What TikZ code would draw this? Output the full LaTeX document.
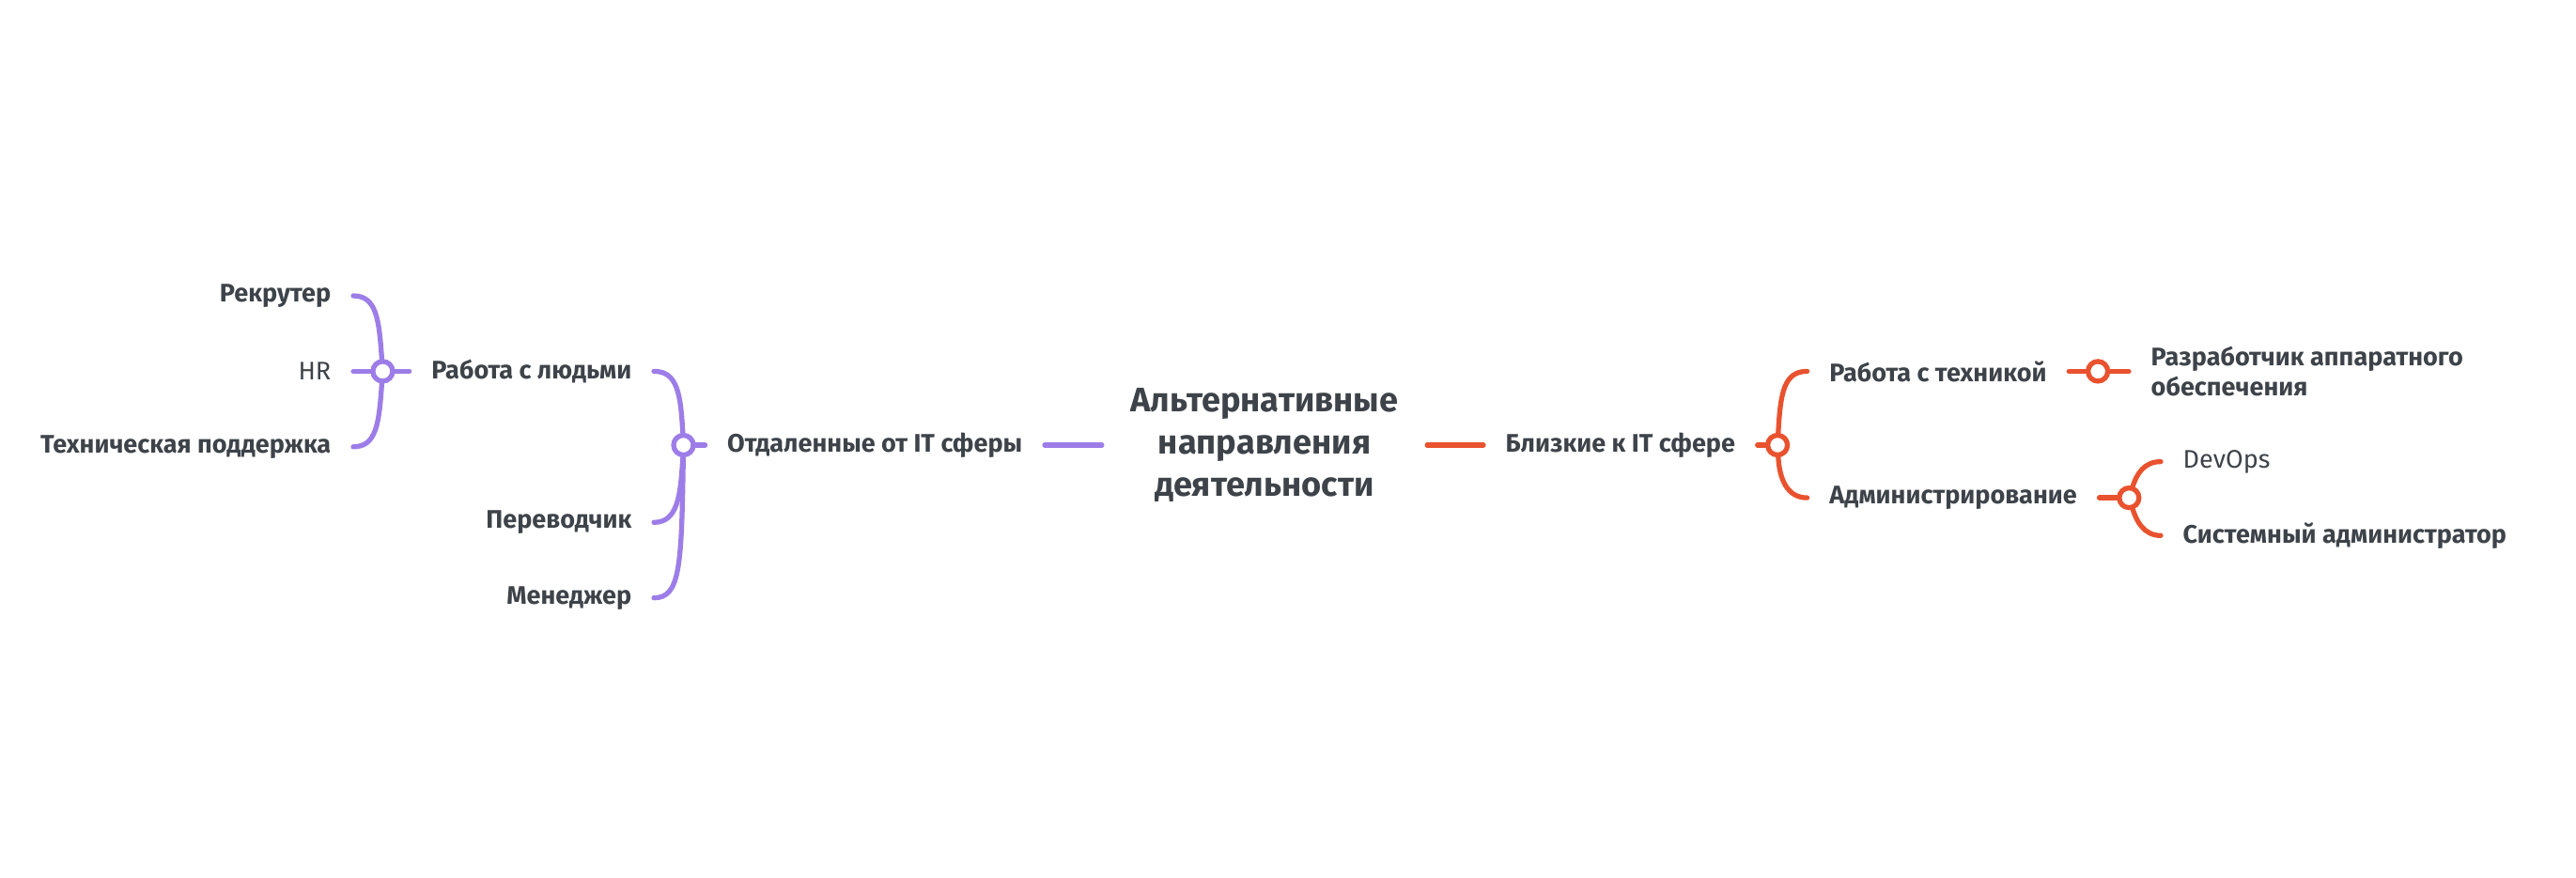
\documentclass[tikz,border=0pt]{standalone}
\usepackage{fontspec}
\setmainfont{Fira Sans}
\usepackage{xcolor}
\definecolor{mmpurple}{RGB}{157,125,232}
\definecolor{mmred}{RGB}{233,82,47}
\definecolor{mmtext}{RGB}{61,67,73}
\usepackage{tikz}
\usetikzlibrary{positioning, calc}

\begin{document}
\begin{tikzpicture}[
    topic/.style={font=\fontsize{7.7}{9.2}\selectfont\bfseries, text=mmtext, inner xsep=0.23cm, inner ysep=1pt},
    leaf/.style={font=\fontsize{7.7}{9.2}\selectfont, text=mmtext, inner xsep=0.23cm, inner ysep=1pt},
    hub/.style={circle, draw=#1, fill=white, line width=1.5pt, minimum size=0.21cm, inner sep=0pt},
    branch/.style={line width=1.5pt, line cap=round}
]
\useasboundingbox (0,0) rectangle (27.42,9.34);

% --- centre ---
\node[font=\fontsize{10.3}{12.7}\selectfont\bfseries, text=mmtext, align=center, inner xsep=0.3cm]
      (root) at (13.46,4.6) {Альтернативные\\направления\\деятельности};

% --- left side: far from IT ---
\node[topic, anchor=east] (far) at (11.12,4.6) {Отдаленные от IT сферы};
\node[hub=mmpurple] (hubM) at (7.275,4.6) {};
\node[topic, anchor=east] (people) at (6.96,5.386) {Работа с людьми};
\node[topic, anchor=east] (transl) at (6.96,3.777) {Переводчик};
\node[topic, anchor=east] (manager) at (6.96,2.973) {Менеджер};
\node[hub=mmpurple] (hubL) at (4.074,5.386) {};
\node[topic, anchor=east] (recruit) at (3.76,6.19) {Рекрутер};
\node[leaf, anchor=east] (hr) at (3.76,5.386) {HR};
\node[topic, anchor=east] (support) at (3.76,4.582) {Техническая поддержка};

\draw[branch, mmpurple] (root.west) -- (far.east);
\draw[branch, mmpurple] (far.west) -- (hubM);
\draw[branch, mmpurple] (hubM) .. controls +(-0.03,0.55) and +(0.25,0) .. (people.east);
\draw[branch, mmpurple] (hubM) .. controls +(-0.03,-0.55) and +(0.25,0) .. (transl.east);
\draw[branch, mmpurple] (hubM) .. controls +(-0.02,-1.3) and +(0.28,0) .. (manager.east);
\draw[branch, mmpurple] (people.west) -- (hubL);
\draw[branch, mmpurple] (hubL) .. controls +(-0.04,0.55) and +(0.25,0) .. (recruit.east);
\draw[branch, mmpurple] (hubL) -- (hr.east);
\draw[branch, mmpurple] (hubL) .. controls +(-0.04,-0.55) and +(0.25,0) .. (support.east);

% --- right side: close to IT ---
\node[topic, anchor=west] (near) at (15.79,4.6) {Близкие к IT сфере};
\node[hub=mmred] (hubR) at (18.921,4.6) {};
\node[topic, anchor=west] (tech) at (19.236,5.386) {Работа с техникой};
\node[topic, anchor=west] (admin) at (19.236,4.039) {Администрирование};
\node[hub=mmred] (hubT) at (22.331,5.386) {};
\node[topic, anchor=west, align=left] (hw) at (22.66,5.386) {Разработчик аппаратного\\обеспечения};
\node[hub=mmred] (hubA) at (22.663,4.039) {};
\node[leaf, anchor=west] (devops) at (23.0,4.424) {DevOps};
\node[topic, anchor=west] (sysadm) at (23.0,3.637) {Системный администратор};

\draw[branch, mmred] (root.east) -- (near.west);
\draw[branch, mmred] (near.east) -- (hubR);
\draw[branch, mmred] (hubR) .. controls +(0.03,0.55) and +(-0.25,0) .. (tech.west);
\draw[branch, mmred] (hubR) .. controls +(0.02,-0.35) and +(-0.22,0) .. (admin.west);
\draw[branch, mmred] (tech.east) -- (hubT);
\draw[branch, mmred] (hubT) -- (hw.west);
\draw[branch, mmred] (admin.east) -- (hubA);
\draw[branch, mmred] (hubA) .. controls +(0.08,0.25) and +(-0.18,0) .. (devops.west);
\draw[branch, mmred] (hubA) .. controls +(0.08,-0.25) and +(-0.18,0) .. (sysadm.west);

\end{tikzpicture}
\end{document}
